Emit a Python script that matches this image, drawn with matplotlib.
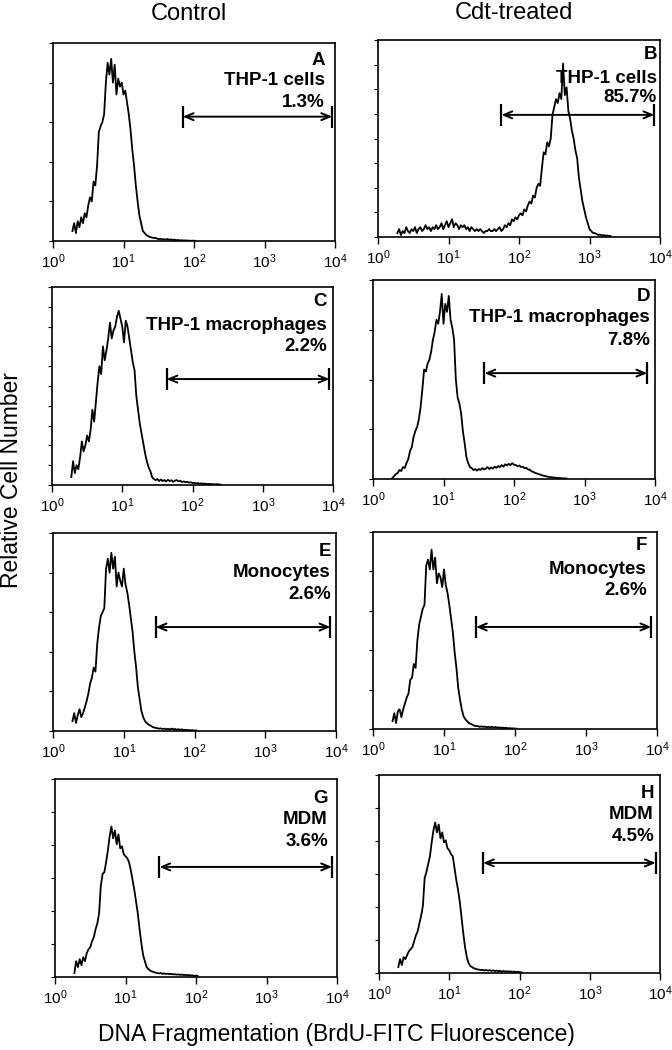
import numpy as np
import matplotlib
matplotlib.use("Agg")
import matplotlib.pyplot as plt
from matplotlib.ticker import NullLocator

plt.rcParams['font.family'] = ['Liberation Sans', 'DejaVu Sans']
plt.rcParams['mathtext.fontset'] = 'custom'
plt.rcParams['mathtext.rm'] = 'Liberation Sans'
plt.rcParams['mathtext.default'] = 'regular'

# fluorescence channels, in decades (plotted on a 10^0..10^4 log axis)
decades = np.round(np.arange(0.275, 3.31, 0.025), 3)

letters = ["A", "B", "C", "D", "E", "F", "G", "H"]
cell_types = ["THP-1 cells", "THP-1 cells", "THP-1 macrophages", "THP-1 macrophages",
              "Monocytes", "Monocytes", "MDM", "MDM"]
percents = ["1.3%", "85.7%", "2.2%", "7.8%", "2.6%", "2.6%", "3.6%", "4.5%"]

# gate limits, in decades
gate_low = [1.84, 1.75, 1.63, 1.58, 1.45, 1.45, 1.48, 1.48]
gate_high = [3.96, 3.92, 3.95, 3.89, 3.92, 3.92, 3.93, 3.94]

# relative cell number per channel (% of panel height)
counts_a = [5, 9, 4, 10, 7, 12, 9, 14, 12, 18, 22, 20, 30, 28, 38, 55, 58, 60, 64, 80,
            90, 84, 92, 80, 89, 74, 82, 78, 80, 74, 76, 70, 64, 56, 46, 38, 28, 20, 13, 9,
            5, 4, 3, 2.5, 2, 1.8, 1.5, 1.6, 1.2, 1.0, 1.1, 0.8, 0.9, 0.7, 1.0, 0.6, 0.8, 0.5,
            0.7, 0.4, 0.5, 0.3, 0.4, 0.2, 0.3, 0.2, 0.2, 0.1, 0.2, 0.1, 0.1]
counts_b = [2, 4, 1, 3, 2, 5, 3, 2, 4, 3, 5, 2, 4, 5, 3, 4, 6, 4, 5, 3,
            5, 4, 6, 4, 5, 7, 4, 6, 8, 5, 7, 9, 5, 7, 6, 4, 6, 5, 6, 4,
            5, 3, 5, 4, 3, 4, 3, 4, 3, 2, 3, 3, 4, 3, 3, 4, 3, 4, 5, 3,
            4, 6, 5, 7, 6, 9, 8, 10, 9, 11, 12, 11, 14, 13, 16, 18, 17, 21, 20, 25,
            27, 26, 35, 43, 42, 48, 46, 50, 62, 66, 70, 68, 73, 70, 88, 72, 76, 64, 60, 54,
            50, 44, 40, 30, 24, 18, 14, 10, 7, 4, 3, 2, 2, 1.5, 1, 1.2, 0.8, 1, 0.6, 0.8,
            0.5, 0.5]
counts_c = [4, 12, 6, 10, 8, 14, 22, 17, 20, 25, 22, 28, 38, 32, 42, 52, 60, 56, 70, 63,
            68, 74, 82, 74, 78, 80, 85, 88, 84, 80, 72, 83, 80, 74, 68, 62, 58, 45, 38, 31,
            26, 21, 16, 12, 9, 7, 4, 3, 2.5, 3, 2, 2.8, 2, 2.5, 1.8, 2.6, 2, 2.4, 1.6, 2.2,
            2.5, 1.8, 2.2, 1.5, 1.8, 1.4, 1.6, 1.2, 1.4, 1, 1.1, 0.8, 1, 0.7, 0.8, 0.6, 0.7, 0.5,
            0.6, 0.4, 0.5, 0.4, 0.3, 0.4, 0.3, 0.2]
counts_d = [0.5, 1.5, 2.5, 3, 4.5, 4, 6, 5.5, 8, 10, 14, 16, 21, 24, 26, 30, 36, 45, 55, 54,
            58, 60, 64, 70, 74, 80, 78, 84, 93, 78, 88, 84, 92, 80, 76, 70, 50, 41, 38, 33,
            24, 18, 11, 8, 6, 5.5, 4.5, 5, 4.2, 5, 4.6, 5.5, 4.8, 5.2, 6, 5, 5.8, 5.2, 6.2, 5.6,
            6.5, 6, 7, 6.2, 7.4, 6.8, 7.6, 7, 8, 7.2, 7, 6.4, 6.8, 6, 6.2, 5.4, 5.6, 4.8, 4.6, 3.8,
            3.6, 3, 2.8, 2.4, 2.2, 1.8, 1.6, 1.4, 1.2, 1, 0.9, 0.8, 0.7, 0.6, 0.5, 0.4, 0.4, 0.3,
            0.3, 0.2]
counts_e = [5, 9, 4, 8, 11, 7, 9, 12, 15, 19, 24, 27, 32, 30, 44, 52, 58, 60, 62, 82,
            87, 80, 90, 82, 88, 73, 80, 76, 73, 82, 74, 70, 64, 57, 50, 40, 32, 22, 16, 10,
            7, 5, 4, 3.2, 2.8, 2.2, 1.8, 1.6, 1.4, 1.2, 1.3, 1, 1.2, 0.9, 1.1, 0.8, 1.2, 0.9,
            1, 0.7, 0.9, 0.6, 0.8, 0.5, 0.6, 0.4, 0.5, 0.3, 0.4, 0.2, 0.3]
counts_f = [4, 8, 3, 9, 10, 6, 10, 13, 16, 18, 25, 26, 33, 31, 45, 53, 57, 61, 63, 83,
            86, 81, 91, 81, 87, 74, 79, 77, 72, 81, 73, 69, 63, 56, 49, 39, 31, 21, 15, 10,
            6.5, 5, 4, 3, 2.6, 2.2, 1.7, 1.5, 1.5, 1.1, 1.3, 1.1, 1.2, 0.8, 1.1, 0.9, 1.1, 0.8,
            1, 0.7, 0.8, 0.6, 0.7, 0.5, 0.6, 0.4, 0.4, 0.3, 0.3, 0.2, 0.2]
counts_g = [2, 8, 5, 9, 6, 10, 8, 12, 14, 15, 18, 20, 24, 27, 32, 46, 52, 53, 58, 64,
            71, 76, 70, 74, 67, 72, 65, 66, 62, 61, 60, 58, 54, 49, 44, 38, 32, 24, 17, 11,
            8, 5, 4, 3.2, 2.8, 2.5, 2.2, 2, 1.8, 2, 1.6, 1.8, 1.5, 1.7, 1.4, 1.6, 1.3, 1.4,
            1.2, 1.3, 1.1, 1.2, 1, 1.1, 0.9, 1, 0.8, 0.8, 0.6, 0.7, 0.5]
counts_h = [3, 7, 4, 8, 7, 9, 11, 12, 13, 16, 19, 21, 25, 29, 34, 48, 51, 55, 59, 66,
            72, 76, 71, 75, 68, 71, 66, 67, 63, 62, 60, 59, 53, 47, 42, 36, 28, 20, 13, 8,
            5, 3.5, 3, 2.4, 2.1, 1.8, 1.7, 1.5, 1.6, 1.3, 1.5, 1.2, 1.4, 1.1, 1.3, 1, 1.2, 0.9,
            1.1, 0.8, 1, 0.7, 0.9, 0.7, 0.8, 0.6, 0.7, 0.5, 0.6, 0.4, 0.4]
counts = [counts_a, counts_b, counts_c, counts_d, counts_e, counts_f, counts_g, counts_h]

# layout in pixels: left, right, top, bottom of each frame
boxes = [(53, 335, 43, 241), (378, 660, 40, 237),
         (52, 333, 287, 485), (373, 655, 280, 479),
         (53, 336, 533, 731), (373, 657, 532, 729),
         (55, 337, 779, 977), (379, 660, 775, 973)]
n_yticks = [5, 8, 10, 4, 5, 5, 6, 6]
text_inset = [10, 3, 6, 5, 5, 10, 9, 6]
text_y = [(0.914, 0.813, 0.702), (0.924, 0.807, 0.706),
          (0.926, 0.808, 0.698), (0.916, 0.810, 0.698),
          (0.905, 0.800, 0.687), (0.934, 0.812, 0.702),
          (0.899, 0.793, 0.682), (0.909, 0.798, 0.687)]
arrow_y = [0.628, 0.620, 0.535, 0.532, 0.525, 0.518, 0.556, 0.556]

W, H = 672, 1050
fig = plt.figure(figsize=(W / 100, H / 100), dpi=100)

for i in range(8):
    l, r, t, b = boxes[i]
    ax = fig.add_axes([l / W, 1 - b / H, (r - l) / W, (b - t) / H])
    x = 10 ** decades[:len(counts[i])]
    ax.plot(x, counts[i], color='black', lw=1.3)

    ax.set_xscale('log')
    ax.set_xlim(1, 1e4)
    ax.set_ylim(0, 100)
    ax.set_xticks([1, 10, 100, 1000, 10000])
    ax.xaxis.set_minor_locator(NullLocator())
    ax.set_yticks(np.linspace(0, 100, n_yticks[i] + 1))
    ax.set_yticklabels([])
    ax.tick_params(axis='x', direction='out', length=5, width=1, labelsize=11, pad=3)
    ax.tick_params(axis='y', direction='out', length=3, width=0.8)
    for s in ax.spines.values():
        s.set_linewidth(1.2)

    # panel letter and label
    tx = 1 - text_inset[i] / (r - l)
    for txt, ty in zip([letters[i], cell_types[i], percents[i]], text_y[i]):
        ax.text(tx, ty, txt, transform=ax.transAxes, ha='right', va='center',
                fontsize=13.5, fontweight='bold')

    # gate marker
    trans = ax.get_xaxis_transform()
    ay = arrow_y[i]
    ax.annotate('', xy=(10 ** gate_high[i], ay), xytext=(10 ** gate_low[i], ay),
                xycoords=trans, textcoords=trans,
                arrowprops=dict(arrowstyle='<->,head_length=0.6,head_width=0.25',
                                color='black', lw=1.4, shrinkA=0, shrinkB=0))
    for g in (gate_low[i], gate_high[i]):
        ax.plot([10 ** g, 10 ** g], [ay - 0.055, ay + 0.055], transform=trans,
                color='black', lw=1.6, solid_capstyle='butt')

fig.text(189 / W, 1 - 14 / H, "Control", ha='center', va='center', fontsize=17)
fig.text(514 / W, 1 - 13 / H, "Cdt-treated", ha='center', va='center', fontsize=17)
fig.text(12 / W, 1 - 480 / H, "Relative Cell Number", ha='center', va='center',
         rotation=90, fontsize=16.5)
fig.text(336 / W, 1 - 1035 / H, "DNA Fragmentation (BrdU-FITC Fluorescence)",
         ha='center', va='center', fontsize=16.5)

fig.savefig("out.png", dpi=100)
